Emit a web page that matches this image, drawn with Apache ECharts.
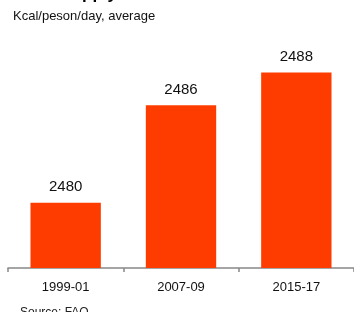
<!DOCTYPE html>
<html>
<head>
<meta charset="utf-8">
<script src="https://cdn.jsdelivr.net/npm/echarts@6/dist/echarts.min.js"></script>
<style>
  html, body { margin: 0; padding: 0; background: #fff; }
  #chart { width: 354px; height: 312px; }
</style>
</head>
<body>
<div id="chart"></div>
<script>
const periods = ['1999-01', '2007-09', '2015-17'];
const kcal = [2480, 2486, 2488];

const chart = echarts.init(document.getElementById('chart'), null, { renderer: 'canvas' });

chart.setOption({
  animation: false,
  backgroundColor: '#fff',
  textStyle: { fontFamily: 'Liberation Sans, Arial, sans-serif' },
  title: [
    { text: 'Food supply', left: 11, top: -19, textStyle: { fontSize: 17, fontWeight: 'bold', color: '#000' } },
    { text: 'Kcal/peson/day, average', left: 8, top: 5, textStyle: { fontSize: 13, fontWeight: 'normal', color: '#111' } },
    { text: 'Source: FAO', left: 15, top: 302, textStyle: { fontSize: 12, fontWeight: 'normal', color: '#222' } }
  ],
  grid: { left: 8, right: -4, top: 40, bottom: 44, containLabel: false },
  xAxis: {
    type: 'category',
    data: periods,
    axisLine: { lineStyle: { color: '#888', width: 1.5 } },
    axisTick: { show: true, length: 4, lineStyle: { color: '#888', width: 1.5 } },
    axisLabel: { color: '#111', fontSize: 13, margin: 13 }
  },
  yAxis: {
    type: 'value',
    min: 2476,
    max: 2490,
    show: false,
    splitLine: { show: false }
  },
  series: [{
    type: 'bar',
    data: kcal,
    barWidth: '61%',
    itemStyle: { color: '#FF3C00' },
    label: { show: true, position: 'top', distance: 8, color: '#111', fontSize: 15 }
  }]
});
</script>
</body>
</html>
